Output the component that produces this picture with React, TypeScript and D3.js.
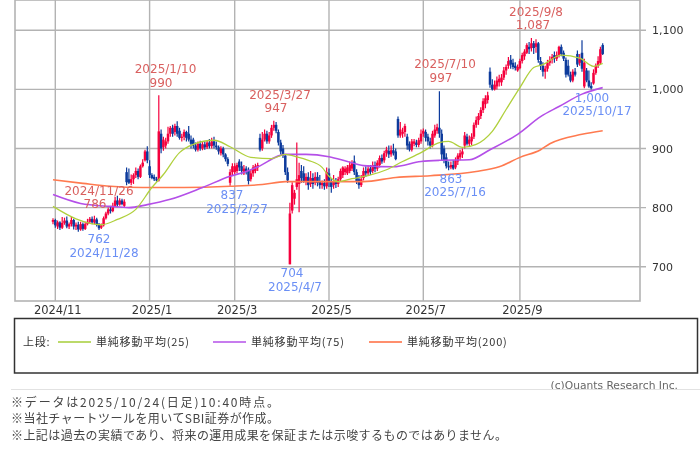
import React from "react";
import * as d3 from "d3";

// daily candles, Oct 31 2024 -> Oct 24 2025
const opens = [
  776, 779, 768, 775, 766, 774, 778, 768, 772, 779,
  768, 771, 763, 772, 764, 772, 776, 781, 775, 780,
  772, 766, 770, 782, 790, 797, 794, 803, 812, 805,
  812, 803, 860, 848, 842, 848, 855, 862, 852, 870,
  880, 895, 870, 855, 852, 848, 846, 925, 902, 905,
  912, 925, 935, 928, 938, 930, 918, 920, 928, 925,
  915, 915, 905, 898, 908, 900, 907, 902, 910, 904,
  912, 905, 902, 892, 900, 890, 882, 842, 860, 860,
  862, 878, 870, 858, 866, 862, 848, 858, 862, 868,
  918, 900, 915, 925, 912, 922, 935, 940, 928, 910,
  900, 888, 860, 704, 795, 815, 835, 840, 862, 858,
  845, 852, 840, 850, 842, 852, 845, 838, 842, 836,
  858, 845, 838, 845, 840, 848, 855, 860, 858, 862,
  866, 878, 860, 848, 838, 850, 862, 858, 866, 862,
  872, 866, 872, 884, 880, 892, 896, 890, 897, 895,
  950, 922, 925, 928, 920, 908, 898, 908, 910, 906,
  912, 925, 928, 920, 912, 905, 922, 930, 935, 925,
  900, 885, 870, 868, 872, 868, 878, 885, 890, 905,
  920, 908, 912, 920, 940, 948, 955, 965, 975, 982,
  1030, 1008, 1000, 1005, 1012, 1012, 1020, 1032, 1040, 1050,
  1045, 1040, 1032, 1036, 1048, 1056, 1062, 1072, 1070, 1078,
  1072, 1078, 1048, 1040, 1030, 1035, 1045, 1050, 1058, 1052,
  1058, 1072, 1062, 1050, 1040, 1025, 1015, 1030, 1060, 1045,
  1062, 1005, 1032, 1015, 1006, 1010, 1028, 1040, 1045, 1075,
];
const closes = [
  779, 770, 775, 766, 774, 778, 768, 772, 779, 768,
  771, 763, 772, 764, 772, 776, 781, 775, 780, 772,
  765, 770, 782, 790, 797, 794, 803, 812, 805, 812,
  806, 810, 843, 842, 848, 855, 862, 852, 870, 876,
  895, 880, 855, 850, 848, 846, 929, 900, 915, 912,
  925, 935, 925, 938, 925, 918, 920, 928, 918, 915,
  908, 905, 898, 908, 900, 907, 902, 910, 904, 912,
  905, 902, 895, 900, 890, 882, 874, 860, 870, 870,
  872, 868, 862, 866, 862, 845, 858, 868, 870, 872,
  898, 915, 925, 912, 922, 935, 940, 930, 910, 895,
  888, 860, 846, 790, 838, 825, 848, 855, 850, 845,
  852, 838, 850, 840, 852, 842, 838, 842, 836, 860,
  845, 835, 845, 840, 848, 862, 868, 866, 868, 872,
  875, 860, 845, 838, 848, 862, 858, 866, 860, 872,
  866, 876, 884, 878, 892, 898, 890, 897, 892, 882,
  922, 932, 928, 938, 905, 898, 912, 912, 906, 914,
  925, 930, 918, 912, 905, 925, 932, 936, 925, 890,
  880, 870, 868, 872, 866, 880, 888, 892, 895, 922,
  908, 915, 920, 940, 948, 955, 965, 980, 985, 990,
  1008, 1000, 1008, 1015, 1018, 1020, 1032, 1038, 1048, 1042,
  1038, 1036, 1038, 1048, 1058, 1064, 1075, 1068, 1078, 1070,
  1078, 1050, 1040, 1030, 1035, 1045, 1050, 1055, 1052, 1058,
  1072, 1060, 1052, 1025, 1025, 1015, 1030, 1025, 1042, 1052,
  1035, 1045, 1015, 1005, 1002, 1028, 1040, 1048, 1068, 1060,
];
const highs = [
  782, 781, 778, 777, 784, 783, 785, 775, 784, 781,
  775, 776, 776, 775, 776, 781, 784, 785, 786, 783,
  774, 773, 785, 793, 800, 802, 808, 818, 820, 816,
  815, 814, 868, 866, 856, 858, 868, 866, 873, 882,
  898, 904, 880, 858, 856, 852, 990, 932, 920, 918,
  937, 938, 940, 942, 946, 935, 925, 932, 930, 938,
  922, 918, 910, 912, 913, 911, 912, 913, 916, 918,
  920, 912, 905, 904, 903, 892, 885, 865, 875, 875,
  876, 882, 878, 872, 870, 868, 865, 872, 874, 876,
  925, 928, 932, 930, 928, 940, 947, 945, 932, 915,
  906, 890, 868, 808, 843, 830, 910, 876, 872, 870,
  858, 860, 862, 858, 860, 860, 855, 846, 848, 868,
  866, 850, 855, 850, 852, 866, 870, 870, 872, 878,
  880, 888, 865, 855, 855, 868, 870, 872, 872, 878,
  878, 880, 888, 890, 896, 903, 905, 905, 908, 900,
  954, 945, 935, 942, 925, 912, 916, 916, 915, 918,
  932, 934, 932, 925, 918, 930, 940, 942, 997, 932,
  905, 892, 878, 878, 880, 885, 892, 898, 900, 928,
  925, 922, 926, 944, 954, 960, 970, 985, 990, 996,
  1037, 1017, 1015, 1022, 1025, 1026, 1038, 1042, 1055, 1058,
  1052, 1046, 1042, 1052, 1062, 1068, 1078, 1080, 1087, 1082,
  1085, 1080, 1055, 1046, 1040, 1050, 1056, 1060, 1064, 1064,
  1074, 1076, 1066, 1054, 1050, 1030, 1034, 1036, 1066, 1060,
  1083, 1052, 1036, 1032, 1012, 1034, 1044, 1056, 1072, 1078,
];
const lows = [
  772, 766, 764, 762, 764, 771, 765, 764, 768, 763,
  762, 759, 761, 761, 762, 770, 774, 772, 772, 768,
  762, 764, 768, 780, 787, 790, 792, 801, 802, 803,
  804, 801, 838, 840, 838, 840, 850, 848, 850, 868,
  878, 875, 850, 848, 845, 844, 844, 892, 896, 900,
  908, 920, 920, 922, 920, 915, 912, 914, 912, 912,
  900, 900, 895, 895, 896, 897, 898, 899, 900, 900,
  900, 898, 890, 888, 885, 878, 870, 837, 855, 856,
  858, 862, 856, 855, 856, 839, 844, 852, 858, 862,
  895, 896, 912, 908, 908, 918, 930, 926, 905, 890,
  884, 855, 842, 704, 790, 805, 830, 792, 842, 842,
  838, 830, 835, 832, 838, 836, 832, 832, 830, 832,
  835, 825, 832, 833, 835, 845, 850, 855, 855, 858,
  862, 855, 840, 832, 835, 846, 852, 854, 855, 858,
  860, 862, 868, 874, 876, 886, 884, 886, 888, 880,
  918, 918, 918, 920, 898, 895, 895, 904, 902, 902,
  908, 920, 912, 905, 900, 902, 918, 925, 918, 880,
  875, 866, 863, 865, 864, 865, 872, 880, 884, 900,
  905, 904, 906, 916, 935, 940, 950, 960, 968, 976,
  1003, 998, 998, 1000, 1005, 1006, 1016, 1025, 1035, 1035,
  1034, 1032, 1030, 1034, 1044, 1050, 1060, 1060, 1064, 1060,
  1062, 1045, 1033, 1022, 1018, 1030, 1040, 1044, 1045, 1048,
  1054, 1056, 1048, 1020, 1022, 1012, 1012, 1022, 1038, 1040,
  1030, 1002, 1012, 1003, 1000, 1008, 1025, 1036, 1042, 1058,
];

// moving averages: read at the bends only, index = candle number
const ma25Idx = [0, 10, 21, 28, 36, 43, 48, 55, 61, 70, 77, 86, 95, 101, 106, 111, 117, 120, 124, 130, 137, 145, 152, 160, 168, 172, 178, 184, 191, 197, 203, 209, 213, 221, 229, 235, 239];
const ma25Val = [802, 781, 771, 780, 797, 834, 856, 893, 907, 914, 903, 885, 883, 890, 886, 880, 868, 853, 844, 849, 854, 864, 878, 893, 910, 912, 902, 907, 929, 966, 1003, 1037, 1042, 1058, 1053, 1039, 1044];
const ma75Idx = [0, 12, 25, 33, 41, 51, 65, 77, 84, 89, 101, 110, 120, 128, 135, 148, 160, 168, 181, 190, 202, 212, 220, 230, 239];
const ma75Val = [822, 807, 802, 800, 805, 814, 834, 853, 861, 869, 890, 890, 886, 878, 871, 869, 878, 880, 881, 898, 924, 954, 971, 992, 1003];
const ma200Idx = [0, 13, 25, 39, 57, 77, 91, 101, 120, 135, 149, 164, 184, 194, 203, 212, 216, 230, 239];
const ma200Val = [847, 841, 836, 834, 834, 836, 839, 844, 844, 844, 851, 854, 861, 869, 885, 898, 908, 924, 930];

const yTicks = [700, 800, 900, 1000, 1100];
const monthIdx = [1, 42, 79, 120, 161, 203];
const monthLabels = ["2024/11", "2025/1", "2025/3", "2025/5", "2025/7", "2025/9"];

// date label / price label with the candle they belong to
const highNotes = [
  { date: "2024/11/26", price: "786", dateX: 99, dateY: 195, priceX: 95, priceY: 208 },
  { date: "2025/1/10", price: "990", dateX: 165.5, dateY: 73, priceX: 161, priceY: 87 },
  { date: "2025/3/27", price: "947", dateX: 280, dateY: 99, priceX: 276, priceY: 112 },
  { date: "2025/7/10", price: "997", dateX: 445, dateY: 68, priceX: 441, priceY: 82 },
  { date: "2025/9/8", price: "1,087", dateX: 536, dateY: 16, priceX: 533, priceY: 29 },
];
const lowNotes = [
  { date: "2024/11/28", price: "762", dateX: 104, dateY: 257, priceX: 99, priceY: 243 },
  { date: "2025/2/27", price: "837", dateX: 237, dateY: 213, priceX: 232, priceY: 199 },
  { date: "2025/4/7", price: "704", dateX: 295, dateY: 291, priceX: 292, priceY: 277 },
  { date: "2025/7/16", price: "863", dateX: 455, dateY: 196, priceX: 451, priceY: 183 },
  { date: "2025/10/17", price: "1,000", dateX: 597, dateY: 115, priceX: 592, priceY: 102 },
];

const legendItems = [
  { label: "単純移動平均(25)", color: "#a6ce39", x: 58 },
  { label: "単純移動平均(75)", color: "#b44fe8", x: 213 },
  { label: "単純移動平均(200)", color: "#ff6a3d", x: 369 },
];
const notes = [
  "※データは2025/10/24(日足)10:40時点。",
  "※当社チャートツールを用いてSBI証券が作成。",
  "※上記は過去の実績であり、将来の運用成果を保証または示唆するものではありません。",
];
const noteWidths = [268, 268, 496];

const UP = "#f5003c";
const DOWN = "#0b3a9c";
const GRID = "#b3b3b3";
const RED_TEXT = "#d9605f";
const BLUE_TEXT = "#6b8ff5";
const LATIN = "'DejaVu Sans', sans-serif";
const CJK = "'Noto Sans CJK JP', sans-serif";

function App(): JSX.Element {
  const x = d3.scaleLinear().domain([0, 239]).range([53, 602.7]);
  const y = d3.scaleLinear().domain([700, 1100]).range([266.7, 30.3]);

  const maPath = (idx: number[], val: number[]) =>
    d3
      .line<number>()
      .x((i) => x(i))
      .y((_, k) => y(val[k]))
      .curve(d3.curveMonotoneX)(idx) as string;

  return (
    <svg
      width={700}
      height={459}
      style={{ position: "absolute", left: 0, top: 0, background: "#fff" }}
    >
      {/* the reference is a slightly soft, upscaled image */}
      <defs>
        <filter id="soft" x="0" y="0" width="100%" height="100%">
          <feGaussianBlur stdDeviation={0.3} />
        </filter>
      </defs>
      <g filter="url(#soft)">
        <rect x={0} y={0} width={700} height={459} fill="#fff" />
        {/* frame + grid */}
        <rect x={15} y={0} width={625} height={301} fill="#fff" stroke={GRID} strokeWidth={1.6} />
        {yTicks.map((t) => (
          <g key={t}>
            <line x1={15} x2={646} y1={y(t)} y2={y(t)} stroke={GRID} strokeWidth={1.4} />
            <text x={652} y={y(t) + 4} fontSize={11} fontFamily={LATIN} fill="#333">
              {d3.format(",")(t)}
            </text>
          </g>
        ))}
        {monthIdx.map((m, k) => (
          <g key={m}>
            <line x1={x(m)} x2={x(m)} y1={0} y2={301} stroke={GRID} strokeWidth={1.4} />
            <text
              x={x(m) + 2.5}
              y={314}
              textAnchor="middle"
              fontSize={11.5}
              fontFamily={LATIN}
              fill="#333"
            >
              {monthLabels[k]}
            </text>
          </g>
        ))}

        {/* candles */}
        {opens.map((o, i) => {
          const c = closes[i];
          const color = c >= o ? UP : DOWN;
          const top = y(Math.max(o, c));
          return (
            <g key={i}>
              <line x1={x(i)} x2={x(i)} y1={y(highs[i])} y2={y(lows[i])} stroke={color} strokeWidth={1.2} />
              <rect
                x={x(i) - 1.25}
                y={top}
                width={2.5}
                height={Math.max(1, y(Math.min(o, c)) - top)}
                fill={color}
              />
            </g>
          );
        })}

        {/* moving averages */}
        <path d={maPath(ma200Idx, ma200Val)} fill="none" stroke="#ff7a50" strokeWidth={1.6} />
        <path d={maPath(ma75Idx, ma75Val)} fill="none" stroke="#b44fe8" strokeWidth={1.6} />
        <path d={maPath(ma25Idx, ma25Val)} fill="none" stroke="#b0d03c" strokeWidth={1.3} />

        {/* high / low notes */}
        <g fontSize={12} fontFamily={LATIN} textAnchor="middle" fill={RED_TEXT}>
          {highNotes.map((n) => (
            <g key={n.date}>
              <text x={n.dateX} y={n.dateY}>{n.date}</text>
              <text x={n.priceX} y={n.priceY}>{n.price}</text>
            </g>
          ))}
        </g>
        <g fontSize={12} fontFamily={LATIN} textAnchor="middle" fill={BLUE_TEXT}>
          {lowNotes.map((n) => (
            <g key={n.date}>
              <text x={n.priceX} y={n.priceY}>{n.price}</text>
              <text x={n.dateX} y={n.dateY}>{n.date}</text>
            </g>
          ))}
        </g>

        {/* legend */}
        <rect x={14.5} y={318.5} width={683} height={54.5} fill="#fff" stroke="#333" strokeWidth={1.5} />
        <text x={23} y={346} fontSize={11} fontFamily={CJK} fill="#333" letterSpacing={0.8}>上段:</text>
        {legendItems.map((d) => (
          <g key={d.label}>
            <line x1={d.x} x2={d.x + 33} y1={342} y2={342} stroke={d.color} strokeWidth={1.5} />
            <text x={d.x + 38} y={346} fontSize={11} fontFamily={CJK} fill="#333" letterSpacing={0.8}>
              {d.label}
            </text>
          </g>
        ))}

        {/* footer */}
        <text x={678} y={389} textAnchor="end" fontSize={10.7} fontFamily={LATIN} fill="#666">
          (c)Quants Research Inc.
        </text>
        <rect x={11} y={389} width={689} height={12} fill="#fff" />
        <line x1={11} x2={700} y1={389.5} y2={389.5} stroke="#e2e2e2" />
        {notes.map((t, k) => (
          <text
            key={k}
            x={11}
            y={406.5 + k * 16.5}
            fontSize={12}
            fontFamily={CJK}
            fill="#444"
            textLength={noteWidths[k]}
            lengthAdjust="spacing"
          >
            {t}
          </text>
        ))}
      </g>
    </svg>
  );
}

export default App;
